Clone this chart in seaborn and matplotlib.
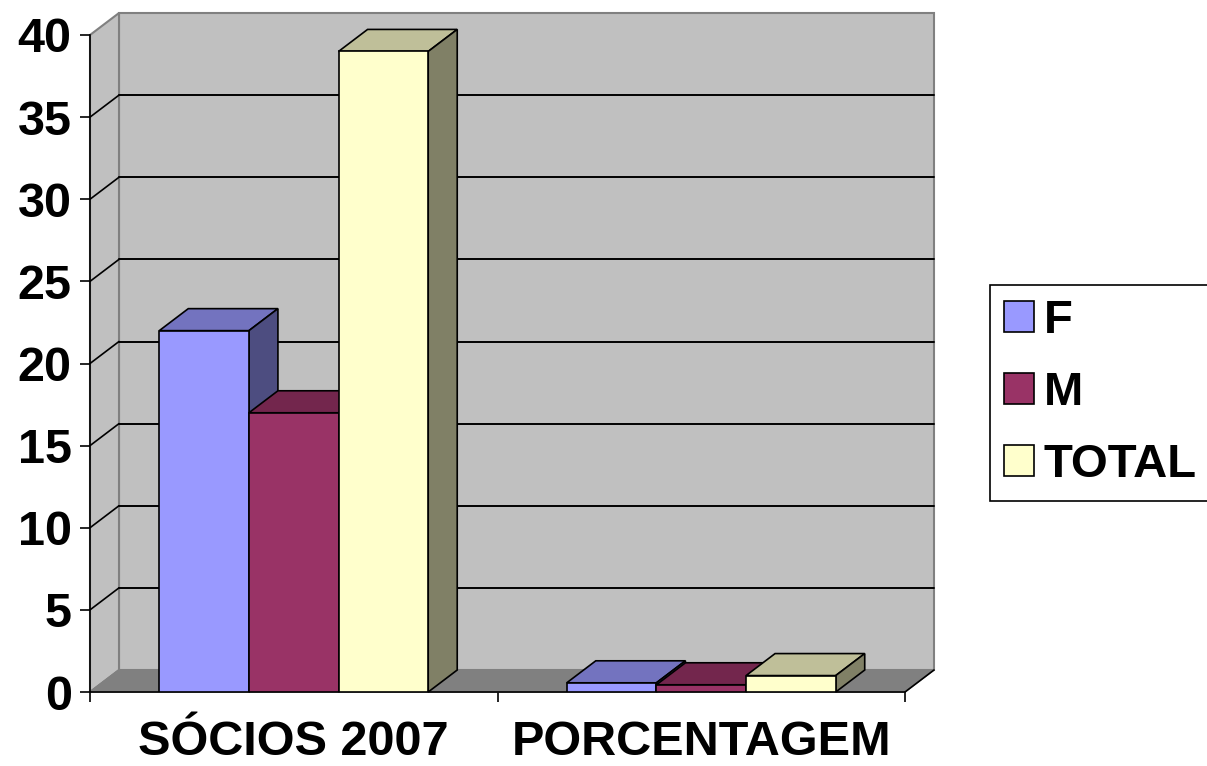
import matplotlib.pyplot as plt
import seaborn as sns
import pandas as pd
import numpy as np
from matplotlib.patches import Polygon, Patch
from matplotlib.colors import to_rgb

# dados
grupos = ["SÓCIOS 2007", "PORCENTAGEM"]
sexos = ["F", "M", "TOTAL"]
socios_2007 = [22, 17, 39]
porcentagem = [0.56, 0.44, 1.0]
yticks = [0, 5, 10, 15, 20, 25, 30, 35, 40]

cores = {"F": "#9999FF", "M": "#993366", "TOTAL": "#FFFFCC"}

da = pd.DataFrame({
    "grupo": [grupos[0]] * 3 + [grupos[1]] * 3,
    "sexo": sexos * 2,
    "valor": socios_2007 + porcentagem,
})

sns.set_style("white")
plt.rcParams["font.family"] = ["Liberation Sans", "DejaVu Sans"]
plt.rcParams["font.weight"] = "bold"
plt.rcParams["text.color"] = "black"
plt.rcParams["xtick.color"] = "black"
plt.rcParams["ytick.color"] = "black"

fig = plt.figure(figsize=(12.07, 7.66), dpi=100)
W, H = 1207, 766
# area frontal do grafico (pixels)
ax = fig.add_axes([90 / W, 1 - 692 / H, 815 / W, 657 / H])
ax.set_facecolor("none")

sns.barplot(data=da, x="grupo", y="valor", hue="sexo", hue_order=sexos,
            order=grupos, palette=cores, width=0.66, saturation=1,
            errorbar=None, edgecolor="black", linewidth=1.2, legend=False, ax=ax)

ax.set_xlim(-0.5, 1.5)
ax.set_ylim(0, 40)
# profundidade 3D em unidades de dados
dx = 29 * 2 / 815
dy = 22 * 40 / 657
x0, x1 = -0.5, 1.5
ymax = 40

# paredes e chao
parede = Polygon([(x0 + dx, dy), (x1 + dx, dy), (x1 + dx, ymax + dy), (x0 + dx, ymax + dy)],
                 closed=True, facecolor="#C0C0C0", edgecolor="#808080", lw=1.5,
                 zorder=0.5, clip_on=False)
ax.add_patch(parede)
lateral = Polygon([(x0, 0), (x0 + dx, dy), (x0 + dx, ymax + dy), (x0, ymax)],
                  closed=True, facecolor="#C0C0C0", edgecolor="#808080", lw=1.5,
                  zorder=0.5, clip_on=False)
ax.add_patch(lateral)
for v in yticks[1:-1]:
    ax.plot([x0 + dx, x1 + dx], [v + dy, v + dy], color="black", lw=1.4, zorder=0.6, clip_on=False)
    ax.plot([x0, x0 + dx], [v, v + dy], color="black", lw=1.2, zorder=0.6, clip_on=False)
chao = Polygon([(x0, 0), (x1, 0), (x1 + dx, dy), (x0 + dx, dy)], closed=True,
               facecolor="#808080", edgecolor="#808080", lw=1.0, zorder=0.7, clip_on=False)
ax.add_patch(chao)
ax.plot([x1, x1 + dx], [0, dy], color="black", lw=1.2, zorder=0.8, clip_on=False)
ax.plot([x0, x0 + dx], [0, dy], color="#808080", lw=1.2, zorder=0.8, clip_on=False)

# faces 3D das barras
for i, cont in enumerate(ax.containers):
    base = 3 + i * 0.2
    for bar in cont:
        bx = bar.get_x()
        bw = bar.get_width()
        bh = bar.get_height()
        cor = np.array(to_rgb(bar.get_facecolor()))
        topo = Polygon([(bx, bh), (bx + bw, bh), (bx + bw + dx, bh + dy), (bx + dx, bh + dy)],
                       closed=True, facecolor=cor * 0.75, edgecolor="black", lw=1.2,
                       zorder=base, clip_on=False)
        lado = Polygon([(bx + bw, 0), (bx + bw + dx, dy), (bx + bw + dx, bh + dy), (bx + bw, bh)],
                       closed=True, facecolor=cor * 0.5, edgecolor="black", lw=1.2,
                       zorder=base, clip_on=False)
        ax.add_patch(topo)
        ax.add_patch(lado)
        bar.set_zorder(base + 0.1)

# eixos
sns.despine(ax=ax, top=True, right=True)
ax.spines["left"].set_color("black")
ax.spines["bottom"].set_color("black")
ax.spines["left"].set_linewidth(1.2)
ax.spines["bottom"].set_linewidth(1.2)
ax.set_yticks(yticks)
ax.set_yticklabels([str(v) for v in yticks], fontsize=35, fontweight="bold", color="black")
ax.tick_params(axis="y", direction="out", length=7.2, width=1.2, color="black", pad=6, left=True)
ax.set_xticks([0, 1])
ax.set_xticklabels(grupos, fontsize=35, fontweight="bold", color="black")
ax.set_xticks([-0.5, 0.5, 1.5], minor=True)
ax.tick_params(axis="x", which="major", length=0, pad=20)
ax.tick_params(axis="x", which="minor", direction="out", length=7.2, width=1.2,
               color="black", bottom=True)
ax.set_xlabel("")
ax.set_ylabel("")

handles = [Patch(facecolor=cores[s], edgecolor="black", lw=1.2) for s in sexos]
leg = ax.legend(handles, sexos, loc="upper left", bbox_to_anchor=(990 / W, 1 - 285 / H),
                bbox_transform=fig.transFigure, fontsize=34, frameon=True, fancybox=False,
                edgecolor="black", framealpha=1, handlelength=0.64, handleheight=0.64,
                handletextpad=0.2, labelspacing=0.59, borderpad=0.3, borderaxespad=0)
leg.get_frame().set_linewidth(1.2)
for t in leg.get_texts():
    t.set_fontweight("bold")
    t.set_color("black")

fig.savefig("out.png", dpi=100)
